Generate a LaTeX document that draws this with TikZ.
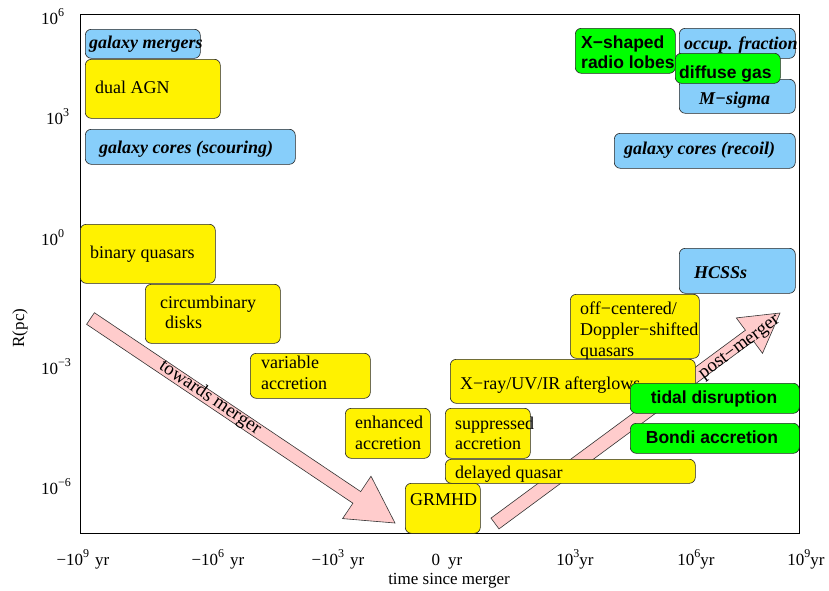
\documentclass[tikz,border=0pt]{standalone}
\usepackage{fontspec}
\setmainfont{Liberation Serif}
\newfontfamily\hv{Liberation Sans}
\definecolor{skyb}{RGB}{135,206,250}
\definecolor{pinkarrow}{RGB}{255,204,204}
\newcommand\ssup[1]{\raisebox{0.42em}{\fontsize{12}{12}\selectfont #1}}
\tikzset{
  every node/.style={inner sep=0pt, font=\fontsize{18}{21}\selectfont},
  box/.style={draw=black!85, line width=0.6pt, rounded corners=6pt, anchor=north west, inner sep=0pt},
  yb/.style={box, fill=yellow},
  bb/.style={box, fill=skyb},
  gb/.style={box, fill=green},
  ytxt/.style={anchor=base west},
  btxt/.style={anchor=base west, font=\fontsize{18}{21}\selectfont\bfseries\itshape},
  gtxt/.style={anchor=base west, font=\fontsize{17.5}{21}\selectfont\hv\bfseries},
  tick/.style={anchor=base, font=\fontsize{17}{20}\selectfont},
  ytick/.style={anchor=base west, font=\fontsize{17}{20}\selectfont},
  arrowsty/.style={draw=black!80, line width=0.6pt, fill=pinkarrow},
  arrtxt/.style={font=\fontsize{19}{22}\selectfont}
}
\begin{document}
\begin{tikzpicture}[x=1pt,y=-1pt]
\useasboundingbox[fill=white] (0,0) rectangle (829,590);
% frame
\draw[line width=0.8pt] (80,14) rectangle (799,533);
% axis tick labels
\node[ytick] (y6) at (41,24) {10\ssup{6}};
\node[ytick] (y3) at (46,124) {10\ssup{3}};
\node[ytick] (y0) at (41,245) {10\ssup{0}};
\node[ytick] (ym3) at (41,374) {10\ssup{−3}};
\node[ytick] (ym6) at (41,494) {10\ssup{−6}};
\node[tick] (xm9) at (83,565) {−10\ssup{9}\hspace{6pt}yr};
\node[tick] (xm6) at (218,565) {−10\ssup{6}\hspace{6pt}yr};
\node[tick] (xm3) at (338,565) {−10\ssup{3}\hspace{6pt}yr};
\node[tick] (x0) at (447,565) {0\hspace{8pt}yr};
\node[tick] (x3) at (575,565) {10\ssup{3}yr};
\node[tick] (x6) at (696,565) {10\ssup{6}yr};
\node[tick] (x9) at (806,565) {10\ssup{9}yr};
\node[tick] (xlab) at (449,584) {time since merger};
\node[font=\fontsize{17}{20}\selectfont, rotate=90] (ylab) at (20,328) {R(pc)};
% arrows
\draw[arrowsty] (86.6,324.3) -- (352.9,503.2) -- (342.6,518.6) -- (395,523) -- (371.0,476.2) -- (360.7,491.6) -- (94.4,312.7) -- cycle;
\node[arrtxt, rotate=-33.9] (towards) at (210,398) {towards merger};
\draw[arrowsty] (499.0,528.9) -- (753.4,341.0) -- (762.5,353.3) -- (780,313) -- (736.3,317.9) -- (745.4,330.2) -- (491.0,518.1) -- cycle;
\node[arrtxt, rotate=36.4] (post) at (740,348) {post−merger};
% blue boxes
\node[bb, minimum width=115, minimum height=29] (gm) at (85,29) {};
\node[btxt] (tgm) at (89,48) {galaxy mergers};
\node[bb, minimum width=210, minimum height=35] (gcs) at (85,129) {};
\node[btxt] (tgcs) at (99,153) {galaxy cores (scouring)};
\node[bb, minimum width=116, minimum height=45] (hc) at (679,248) {};
\node[btxt] (thc) at (694,278) {HCSSs};
\node[bb, minimum width=181, minimum height=35] (gcr) at (614,133) {};
\node[btxt] (tgcr) at (624,154) {galaxy cores (recoil)};
\node[bb, minimum width=116, minimum height=34] (ms) at (679,79) {};
\node[btxt] (tms) at (699,104) {M−sigma};
\node[bb, minimum width=116, minimum height=30] (of) at (679,28) {};
\node[btxt] (tof) at (684,49) {occup. fraction};
% yellow boxes
\node[yb, minimum width=135, minimum height=59] (dual) at (85,59) {};
\node[ytxt] (tdual) at (95,93) {dual AGN};
\node[yb, minimum width=135, minimum height=59] (bq) at (80,224) {};
\node[ytxt] (tbq) at (90,258) {binary quasars};
\node[yb, minimum width=135, minimum height=59] (cd) at (145,284) {};
\node[ytxt] (tcd1) at (160,308) {circumbinary};
\node[ytxt] (tcd2) at (165,328) {disks};
\node[yb, minimum width=120, minimum height=45] (va) at (250,353) {};
\node[ytxt] (tva1) at (261,368) {variable};
\node[ytxt] (tva2) at (261,389) {accretion};
\node[yb, minimum width=85, minimum height=50] (ea) at (345,408) {};
\node[ytxt] (tea1) at (355,428) {enhanced};
\node[ytxt] (tea2) at (355,449) {accretion};
\node[yb, minimum width=75, minimum height=50] (grmhd) at (405,483) {};
\node[ytxt] (tgrmhd) at (410,505) {GRMHD};
\node[yb, minimum width=85, minimum height=50] (sa) at (445,408) {};
\node[ytxt] (tsa1) at (455,429) {suppressed};
\node[ytxt] (tsa2) at (455,449) {accretion};
\node[yb, minimum width=250, minimum height=24] (dq) at (445,459) {};
\node[ytxt] (tdq) at (455,478) {delayed quasar};
\node[yb, minimum width=129, minimum height=64] (oc) at (570,294) {};
\node[ytxt] (toc1) at (580,314) {off−centered/};
\node[ytxt] (toc2) at (580,335) {Doppler−shifted};
\node[ytxt] (toc3) at (580,356) {quasars};
\node[yb, minimum width=245, minimum height=44] (xr) at (450,359) {};
\node[ytxt] (txr) at (460,389) {X−ray/UV/IR afterglows};
% green boxes
\node[gb, minimum width=169, minimum height=30] (td) at (630,383) {};
\node[gtxt, anchor=base] (ttd) at (714,403) {tidal disruption};
\node[gb, minimum width=169, minimum height=30] (ba) at (630,423) {};
\node[gtxt, anchor=base] (tba) at (712,443) {Bondi accretion};
\node[gb, minimum width=100, minimum height=45] (xs) at (575,28) {};
\node[gtxt] (txs1) at (581,48) {X−shaped};
\node[gtxt] (txs2) at (581,68) {radio lobes};
\node[gb, minimum width=105, minimum height=30] (dg) at (675,53) {};
\node[gtxt] (tdg) at (679,78) {diffuse gas};
\end{tikzpicture}
\end{document}
